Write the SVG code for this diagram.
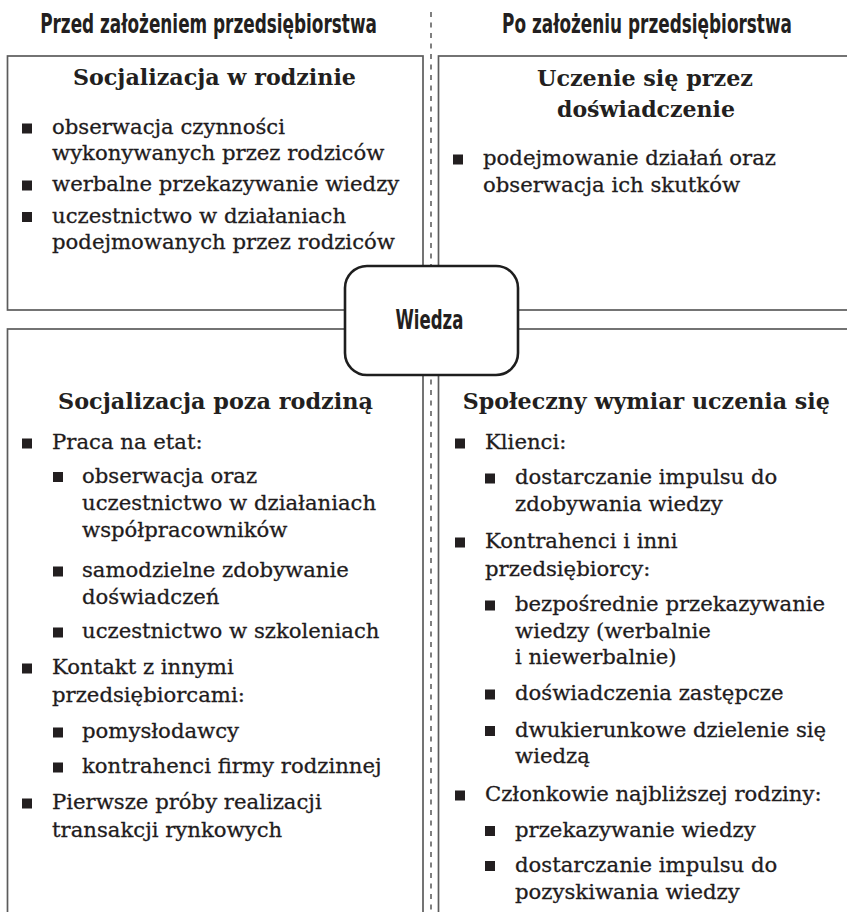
<svg xmlns="http://www.w3.org/2000/svg" xmlns:xlink="http://www.w3.org/1999/xlink" width="847" height="912" viewBox="0 0 847 912">
  <style>
    .head { font-family: "Liberation Sans Narrow", "DejaVu Sans Condensed", "Liberation Sans", sans-serif; font-weight: bold; font-size: 26px; fill: #231f20; text-anchor: middle; }
    .title { font-family: "DejaVu Serif", "Liberation Serif", serif; font-weight: bold; font-size: 22.5px; fill: #231f20; text-anchor: middle; }
    .body { font-family: "DejaVu Serif", "Liberation Serif", serif; font-size: 21.2px; fill: #1f1c1d; stroke: #1f1c1d; stroke-width: 0.3; }
    .frame { fill: none; stroke: #5c5c5c; stroke-width: 1.7; }
    .divider { fill: none; stroke: #6a6a6a; stroke-width: 1.7; stroke-dasharray: 5 5.5; }
    .core { fill: #ffffff; stroke: #1e1e1e; stroke-width: 2.6; }
    .bullet { fill: #231f20; }
  </style>
  <defs>
    <rect id="sq" class="bullet" width="10" height="10"/>
  </defs>

  <rect width="847" height="912" fill="#ffffff"/>

  <!-- column headings (condensed by a horizontal scale) -->
  <g id="headings">
    <text class="head" transform="translate(208.5 33) scale(0.7 1)" textLength="481" lengthAdjust="spacingAndGlyphs">Przed założeniem przedsiębiorstwa</text>
    <text class="head" transform="translate(647 33) scale(0.7 1)" textLength="414" lengthAdjust="spacingAndGlyphs">Po założeniu przedsiębiorstwa</text>
  </g>

  <!-- dashed divider between the two periods -->
  <g id="connectors">
    <line class="divider" x1="431" y1="12" x2="431" y2="912"/>
  </g>

  <!-- top left quadrant -->
  <g id="socjalizacja-w-rodzinie">
    <rect class="frame" x="7.5" y="56" width="415.5" height="254"/>
    <text class="title" x="214.5" y="85" textLength="283" lengthAdjust="spacingAndGlyphs">Socjalizacja w rodzinie</text>
    <use xlink:href="#sq" x="22" y="123.5"/>
    <text class="body" x="52" y="134">obserwacja czynności</text>
    <text class="body" x="52" y="160">wykonywanych przez rodziców</text>
    <use xlink:href="#sq" x="22" y="180.5"/>
    <text class="body" x="52" y="191">werbalne przekazywanie wiedzy</text>
    <use xlink:href="#sq" x="22" y="212"/>
    <text class="body" x="52" y="222.5">uczestnictwo w działaniach</text>
    <text class="body" x="52" y="249">podejmowanych przez rodziców</text>
  </g>

  <!-- top right quadrant -->
  <g id="uczenie-przez-doswiadczenie">
    <rect class="frame" x="438.5" y="56" width="420" height="254"/>
    <text class="title" x="645" y="86" textLength="216" lengthAdjust="spacingAndGlyphs">Uczenie się przez</text>
    <text class="title" x="646" y="117" textLength="178" lengthAdjust="spacingAndGlyphs">doświadczenie</text>
    <use xlink:href="#sq" x="453" y="154.5"/>
    <text class="body" x="483" y="165">podejmowanie działań oraz</text>
    <text class="body" x="483" y="191.5">obserwacja ich skutków</text>
  </g>

  <!-- bottom left quadrant -->
  <g id="socjalizacja-poza-rodzina">
    <rect class="frame" x="7.5" y="329" width="415.5" height="600"/>
    <text class="title" x="215.5" y="409" textLength="315" lengthAdjust="spacingAndGlyphs">Socjalizacja poza rodziną</text>
    <use xlink:href="#sq" x="22" y="438.5"/>
    <text class="body" x="52" y="449">Praca na etat:</text>
    <use xlink:href="#sq" x="53" y="472"/>
    <text class="body" x="82" y="482.5">obserwacja oraz</text>
    <text class="body" x="82" y="509.5">uczestnictwo w działaniach</text>
    <text class="body" x="82" y="536.5">współpracowników</text>
    <use xlink:href="#sq" x="53" y="566.5"/>
    <text class="body" x="82" y="577">samodzielne zdobywanie</text>
    <text class="body" x="82" y="604">doświadczeń</text>
    <use xlink:href="#sq" x="53" y="627.5"/>
    <text class="body" x="82" y="638">uczestnictwo w szkoleniach</text>
    <use xlink:href="#sq" x="22" y="663.5"/>
    <text class="body" x="52" y="674">Kontakt z innymi</text>
    <text class="body" x="52" y="701.5">przedsiębiorcami:</text>
    <use xlink:href="#sq" x="53" y="727.5"/>
    <text class="body" x="82" y="738">pomysłodawcy</text>
    <use xlink:href="#sq" x="53" y="762.5"/>
    <text class="body" x="82" y="773">kontrahenci firmy rodzinnej</text>
    <use xlink:href="#sq" x="22" y="798.5"/>
    <text class="body" x="52" y="809">Pierwsze próby realizacji</text>
    <text class="body" x="52" y="836.5">transakcji rynkowych</text>
  </g>

  <!-- bottom right quadrant -->
  <g id="spoleczny-wymiar-uczenia">
    <rect class="frame" x="438.5" y="329" width="420" height="600"/>
    <text class="title" x="646.3" y="409" textLength="367" lengthAdjust="spacingAndGlyphs">Społeczny wymiar uczenia się</text>
    <use xlink:href="#sq" x="455" y="438.5"/>
    <text class="body" x="485" y="449">Klienci:</text>
    <use xlink:href="#sq" x="485" y="473.5"/>
    <text class="body" x="515" y="484">dostarczanie impulsu do</text>
    <text class="body" x="515" y="511">zdobywania wiedzy</text>
    <use xlink:href="#sq" x="455" y="537.5"/>
    <text class="body" x="485" y="548">Kontrahenci i inni</text>
    <text class="body" x="485" y="575.5">przedsiębiorcy:</text>
    <use xlink:href="#sq" x="485" y="600.5"/>
    <text class="body" x="515" y="611">bezpośrednie przekazywanie</text>
    <text class="body" x="515" y="637.5">wiedzy (werbalnie</text>
    <text class="body" x="515" y="664">i niewerbalnie)</text>
    <use xlink:href="#sq" x="485" y="689.5"/>
    <text class="body" x="515" y="700">doświadczenia zastępcze</text>
    <use xlink:href="#sq" x="485" y="726"/>
    <text class="body" x="515" y="736.5">dwukierunkowe dzielenie się</text>
    <text class="body" x="515" y="763">wiedzą</text>
    <use xlink:href="#sq" x="455" y="790.5"/>
    <text class="body" x="485" y="801">Członkowie najbliższej rodziny:</text>
    <use xlink:href="#sq" x="485" y="826"/>
    <text class="body" x="515" y="836.5">przekazywanie wiedzy</text>
    <use xlink:href="#sq" x="485" y="861"/>
    <text class="body" x="515" y="871.5">dostarczanie impulsu do</text>
    <text class="body" x="515" y="899">pozyskiwania wiedzy</text>
  </g>

  <!-- central node -->
  <g id="wiedza">
    <rect class="core" x="345" y="266" width="173" height="109" rx="22" ry="22"/>
    <text class="head" transform="translate(429.5 329) scale(0.7 1)" textLength="97" lengthAdjust="spacingAndGlyphs">Wiedza</text>
  </g>
</svg>
